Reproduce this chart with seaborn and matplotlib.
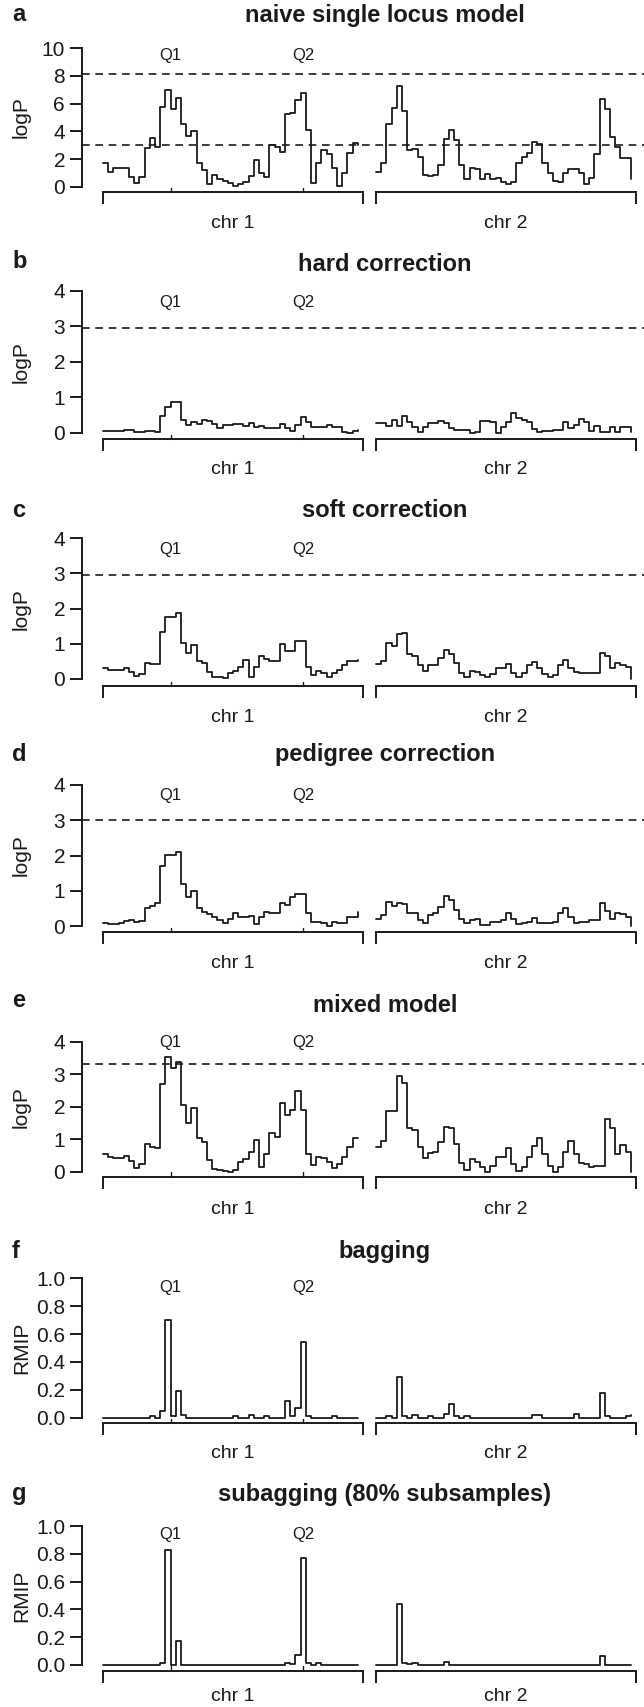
import numpy as np
import pandas as pd
import matplotlib
matplotlib.use("Agg")
import matplotlib.pyplot as plt
import matplotlib.transforms as mtransforms
import seaborn as sns

# ---------------- data ----------------
chromosomes = ["chr 1", "chr 2"]
chr_offsets = [0, 105]          # cM start of each chromosome on the shared axis
chr_length = 100                # cM
marker_pos = np.arange(0, 100, 2)   # 50 markers per chromosome (cM)
qtl_names = ["Q1", "Q2"]
qtl_positions = [26, 77]

panel_letters = ["a", "b", "c", "d", "e", "f", "g"]
panel_titles = ["naive single locus model", "hard correction", "soft correction",
                "pedigree correction", "mixed model", "bagging",
                "subagging (80% subsamples)"]
y_labels = ["logP", "logP", "logP", "logP", "logP", "RMIP", "RMIP"]
y_ticks = [[0, 2, 4, 6, 8, 10], [0, 1, 2, 3, 4], [0, 1, 2, 3, 4], [0, 1, 2, 3, 4],
           [0, 1, 2, 3, 4], [0.0, 0.2, 0.4, 0.6, 0.8, 1.0], [0.0, 0.2, 0.4, 0.6, 0.8, 1.0]]
y_tick_labels = [["0", "2", "4", "6", "8", "10"], ["0", "1", "2", "3", "4"],
                 ["0", "1", "2", "3", "4"], ["0", "1", "2", "3", "4"],
                 ["0", "1", "2", "3", "4"],
                 ["0.0", "0.2", "0.4", "0.6", "0.8", "1.0"],
                 ["0.0", "0.2", "0.4", "0.6", "0.8", "1.0"]]
thresholds = [[8.13, 3.0], [2.96], [2.97], [3.0], [3.31], [], []]

naive_chr1 = [1.70, 1.10, 1.39, 1.39, 1.39, 0.74, 0.31, 0.74, 2.78, 3.50,
              2.85, 5.78, 6.98, 5.59, 6.43, 4.53, 3.67, 4.05, 1.70, 1.22,
              0.19, 0.86, 0.55, 0.40, 0.26, 0.07, 0.22, 0.38, 0.79, 1.94,
              0.98, 0.70, 3.00, 2.90, 2.50, 5.25, 5.30, 6.26, 6.79, 4.10,
              0.31, 1.70, 2.66, 2.37, 1.34, 0.07, 1.03, 2.47, 3.14, 3.00]
naive_chr2 = [1.06, 1.75, 4.50, 5.66, 7.27, 5.49, 2.66, 2.76, 2.18, 0.86,
              0.79, 0.86, 1.58, 3.43, 4.10, 3.38, 1.58, 0.60, 1.39, 1.27,
              0.60, 0.91, 0.55, 0.67, 0.34, 0.19, 0.38, 1.75, 2.18, 2.47,
              3.26, 3.07, 1.70, 0.98, 0.43, 0.36, 1.03, 1.32, 1.27, 1.03,
              0.19, 0.62, 2.37, 6.35, 5.61, 3.62, 2.90, 2.11, 2.11, 0.55]

hard_chr1 = [0.06, 0.06, 0.04, 0.04, 0.07, 0.09, 0.03, 0.03, 0.05, 0.05,
             0.03, 0.47, 0.72, 0.88, 0.88, 0.36, 0.22, 0.31, 0.24, 0.36,
             0.34, 0.24, 0.12, 0.22, 0.22, 0.24, 0.24, 0.19, 0.26, 0.15,
             0.19, 0.12, 0.14, 0.14, 0.24, 0.12, 0.05, 0.22, 0.45, 0.31,
             0.17, 0.15, 0.15, 0.22, 0.17, 0.17, 0.03, 0.00, 0.05, 0.08]
hard_chr2 = [0.26, 0.26, 0.19, 0.36, 0.19, 0.47, 0.31, 0.17, 0.03, 0.17,
             0.28, 0.28, 0.33, 0.26, 0.12, 0.08, 0.08, 0.08, 0.00, 0.03,
             0.34, 0.34, 0.31, 0.00, 0.17, 0.31, 0.55, 0.42, 0.36, 0.31,
             0.10, 0.03, 0.06, 0.06, 0.09, 0.08, 0.31, 0.12, 0.22, 0.38,
             0.31, 0.05, 0.19, 0.03, 0.03, 0.15, 0.03, 0.15, 0.15, 0.03]

soft_chr1 = [0.32, 0.26, 0.25, 0.27, 0.30, 0.21, 0.09, 0.14, 0.46, 0.43,
             0.43, 1.35, 1.75, 1.75, 1.89, 1.03, 0.75, 0.97, 0.51, 0.46,
             0.21, 0.07, 0.07, 0.02, 0.18, 0.24, 0.33, 0.54, 0.07, 0.35,
             0.64, 0.56, 0.51, 0.51, 0.99, 0.81, 0.81, 1.09, 1.09, 0.35,
             0.11, 0.23, 0.18, 0.07, 0.16, 0.27, 0.40, 0.51, 0.51, 0.55]
soft_chr2 = [0.42, 0.51, 1.03, 0.94, 1.28, 1.30, 0.71, 0.64, 0.40, 0.24,
             0.40, 0.40, 0.61, 0.82, 0.71, 0.45, 0.18, 0.05, 0.24, 0.21,
             0.11, 0.05, 0.14, 0.30, 0.30, 0.43, 0.18, 0.05, 0.16, 0.40,
             0.49, 0.30, 0.14, 0.05, 0.11, 0.40, 0.54, 0.30, 0.21, 0.18,
             0.16, 0.16, 0.16, 0.75, 0.64, 0.30, 0.46, 0.40, 0.35, 0.00]

pedigree_chr1 = [0.09, 0.06, 0.06, 0.09, 0.14, 0.17, 0.12, 0.14, 0.50, 0.57,
                 0.66, 1.70, 2.01, 2.01, 2.11, 1.19, 0.83, 0.99, 0.50, 0.41,
                 0.33, 0.26, 0.17, 0.08, 0.19, 0.36, 0.26, 0.25, 0.28, 0.06,
                 0.26, 0.39, 0.36, 0.36, 0.66, 0.60, 0.83, 0.91, 0.91, 0.36,
                 0.10, 0.10, 0.08, 0.01, 0.12, 0.09, 0.09, 0.26, 0.26, 0.40]
pedigree_chr2 = [0.19, 0.31, 0.69, 0.57, 0.66, 0.61, 0.38, 0.36, 0.17, 0.08,
                 0.31, 0.36, 0.53, 0.86, 0.74, 0.45, 0.19, 0.08, 0.17, 0.19,
                 0.03, 0.03, 0.12, 0.12, 0.17, 0.36, 0.19, 0.06, 0.08, 0.12,
                 0.22, 0.09, 0.08, 0.08, 0.12, 0.38, 0.50, 0.26, 0.09, 0.12,
                 0.12, 0.17, 0.17, 0.66, 0.43, 0.19, 0.38, 0.34, 0.26, 0.00]

mixed_chr1 = [0.56, 0.46, 0.43, 0.41, 0.49, 0.33, 0.12, 0.23, 0.84, 0.77,
              0.72, 2.69, 3.54, 3.18, 3.38, 2.05, 1.51, 1.95, 1.03, 0.90,
              0.36, 0.08, 0.05, 0.02, 0.00, 0.05, 0.31, 0.38, 0.62, 0.97,
              0.13, 0.56, 1.18, 1.08, 2.12, 1.76, 1.90, 2.49, 1.90, 0.54,
              0.21, 0.46, 0.41, 0.31, 0.10, 0.23, 0.44, 0.77, 1.03, 1.03]
mixed_chr2 = [0.75, 0.95, 1.87, 1.87, 2.94, 2.72, 1.35, 1.28, 0.77, 0.41,
              0.59, 0.62, 0.92, 1.38, 1.33, 0.85, 0.26, 0.05, 0.38, 0.31,
              0.15, 0.00, 0.17, 0.44, 0.46, 0.74, 0.24, 0.02, 0.15, 0.46,
              0.79, 1.03, 0.56, 0.17, 0.00, 0.13, 0.62, 0.94, 0.53, 0.28,
              0.24, 0.13, 0.17, 0.17, 1.62, 1.33, 0.54, 0.82, 0.62, 0.00]

bagging_chr1 = [0, 0, 0, 0, 0, 0, 0, 0, 0, 0.01,
                0, 0.05, 0.70, 0.01, 0.19, 0.02, 0, 0, 0, 0,
                0, 0, 0, 0, 0, 0.01, 0, 0, 0.02, 0,
                0, 0.01, 0, 0, 0, 0.12, 0.01, 0.07, 0.54, 0.01,
                0, 0, 0, 0, 0.01, 0, 0, 0, 0, 0]
bagging_chr2 = [0, 0, 0.015, 0, 0.29, 0.015, 0, 0.02, 0, 0,
                0.01, 0, 0, 0.03, 0.10, 0.01, 0, 0.01, 0, 0,
                0, 0, 0, 0, 0, 0, 0, 0, 0, 0,
                0.02, 0.02, 0, 0, 0, 0, 0, 0, 0.03, 0,
                0, 0, 0, 0.18, 0.015, 0, 0, 0, 0.015, 0.02]

subagging_chr1 = [0, 0, 0, 0, 0, 0, 0, 0, 0, 0,
                  0, 0.015, 0.83, 0, 0.175, 0, 0, 0, 0, 0,
                  0, 0, 0, 0, 0, 0, 0, 0, 0, 0,
                  0, 0, 0, 0, 0, 0.015, 0.005, 0.075, 0.77, 0.015,
                  0, 0.015, 0, 0, 0, 0, 0, 0, 0, 0]
subagging_chr2 = [0, 0, 0, 0, 0.44, 0.015, 0.005, 0.015, 0, 0,
                  0, 0, 0, 0.025, 0, 0, 0, 0, 0, 0,
                  0, 0, 0, 0, 0, 0, 0, 0, 0, 0,
                  0, 0, 0, 0, 0, 0, 0, 0, 0, 0,
                  0, 0, 0, 0.065, 0, 0, 0, 0, 0, 0]

panel_series = [(naive_chr1, naive_chr2), (hard_chr1, hard_chr2),
                (soft_chr1, soft_chr2), (pedigree_chr1, pedigree_chr2),
                (mixed_chr1, mixed_chr2), (bagging_chr1, bagging_chr2),
                (subagging_chr1, subagging_chr2)]

# ---------------- layout (pixels from top-left) ----------------
W, H = 644, 1707
layout = [
    dict(ytop=48.0,   y0=187.0,  bracket=192.0,  title=22.0,   letter=21.0,   q=60.0,   chr=228.5),
    dict(ytop=291.0,  y0=432.7,  bracket=439.0,  title=271.0,  letter=268.0,  q=306.7,  chr=474.0),
    dict(ytop=538.3,  y0=679.0,  bracket=686.0,  title=517.0,  letter=517.0,  q=554.0,  chr=722.0),
    dict(ytop=785.0,  y0=926.0,  bracket=932.0,  title=761.0,  letter=761.0,  q=800.0,  chr=968.0),
    dict(ytop=1041.7, y0=1171.7, bracket=1176.7, title=1011.5, letter=1007.0, q=1046.7, chr=1214.0),
    dict(ytop=1278.3, y0=1417.7, bracket=1423.3, title=1258.0, letter=1258.0, q=1292.3, chr=1458.0),
    dict(ytop=1526.0, y0=1665.0, bracket=1670.7, title=1501.5, letter=1500.0, q=1539.3, chr=1701.0),
]
AX_LEFT, AX_RIGHT = 82.0, 688.0
CM0_PX, PX_PER_CM = 103.0, 2.6
TITLE_X = 385.0

LINE = "#1a1a1a"
TEXT = "#1a1a1a"

sns.set_style("white")
plt.rcParams["font.family"] = ["Liberation Sans", "DejaVu Sans"]
plt.rcParams["text.color"] = TEXT
plt.rcParams["axes.labelcolor"] = TEXT

fig = plt.figure(figsize=(W / 100, H / 100), dpi=100)
fig.patch.set_facecolor("white")


def fx(px):
    return px / W


def fy(px):
    return 1 - px / H


xlim = ((AX_LEFT - CM0_PX) / PX_PER_CM, (AX_RIGHT - CM0_PX) / PX_PER_CM)

for i, L in enumerate(layout):
    ymax = y_ticks[i][-1]
    ax = fig.add_axes([fx(AX_LEFT), fy(L["y0"]), (AX_RIGHT - AX_LEFT) / W,
                       (L["y0"] - L["ytop"]) / H])
    ax.set_facecolor("none")

    rows = []
    for c, (name, off) in enumerate(zip(chromosomes, chr_offsets)):
        vals = panel_series[i][c]
        for p, v in zip(marker_pos, vals):
            rows.append({"chr": name, "pos": off + p, "value": v})
    df = pd.DataFrame(rows)

    sns.lineplot(data=df, x="pos", y="value", units="chr", estimator=None,
                 drawstyle="steps-post", color=LINE, linewidth=1.3, ax=ax,
                 legend=False)
    for ln in ax.lines:
        ln.set_clip_on(False)

    for t in thresholds[i]:
        ax.axhline(t, color=LINE, linewidth=1.2, dashes=(4.6, 3.4))

    ax.set_xlim(*xlim)
    ax.set_ylim(0, ymax)
    ax.set_xlabel("")
    ax.set_ylabel("")
    ax.set_xticks([])
    ax.set_yticks(y_ticks[i])
    ax.set_yticklabels(y_tick_labels[i])
    for s in ["top", "right", "bottom"]:
        ax.spines[s].set_visible(False)
    ax.spines["left"].set_color(LINE)
    ax.spines["left"].set_linewidth(1.4)
    ax.tick_params(axis="y", direction="out", length=8.6, width=1.4, pad=3.6,
                   labelsize=15, color=LINE, labelcolor=TEXT, left=True)

    # chromosome brackets below the data
    scale = (L["y0"] - L["ytop"]) / ymax
    yb = -(L["bracket"] - L["y0"]) / scale
    ybt = -(L["bracket"] + 12.0 - L["y0"]) / scale
    yq = -(L["bracket"] - 4.5 - L["y0"]) / scale
    for off in chr_offsets:
        ax.plot([off, off, off + chr_length, off + chr_length], [ybt, yb, yb, ybt],
                color=LINE, linewidth=1.4, clip_on=False, solid_joinstyle="miter",
                solid_capstyle="butt")
    for q in qtl_positions:
        ax.plot([q, q], [yb, yq], color=LINE, linewidth=1.0, clip_on=False)

    trans = mtransforms.blended_transform_factory(ax.transData, fig.transFigure)
    for name, q in zip(qtl_names, qtl_positions):
        ax.text(q, fy(L["q"]), name, transform=trans, ha="center", va="baseline",
                fontsize=12, color=TEXT)
    for name, off in zip(chromosomes, chr_offsets):
        ax.text(off + chr_length / 2, fy(L["chr"]), name, transform=trans,
                ha="center", va="baseline", fontsize=14, color=TEXT)

    fig.text(fx(TITLE_X), fy(L["title"]), panel_titles[i], ha="center",
             va="baseline", fontsize=17, fontweight="bold", color=TEXT)
    fig.text(fx(12), fy(L["letter"]), panel_letters[i], ha="left",
             va="baseline", fontsize=17, fontweight="bold", color=TEXT)
    fig.text(fx(21.5), fy((L["ytop"] + L["y0"]) / 2), y_labels[i], rotation=90,
             ha="center", va="center", fontsize=15, color=TEXT)

fig.savefig("out.png", dpi=100, facecolor="white")
